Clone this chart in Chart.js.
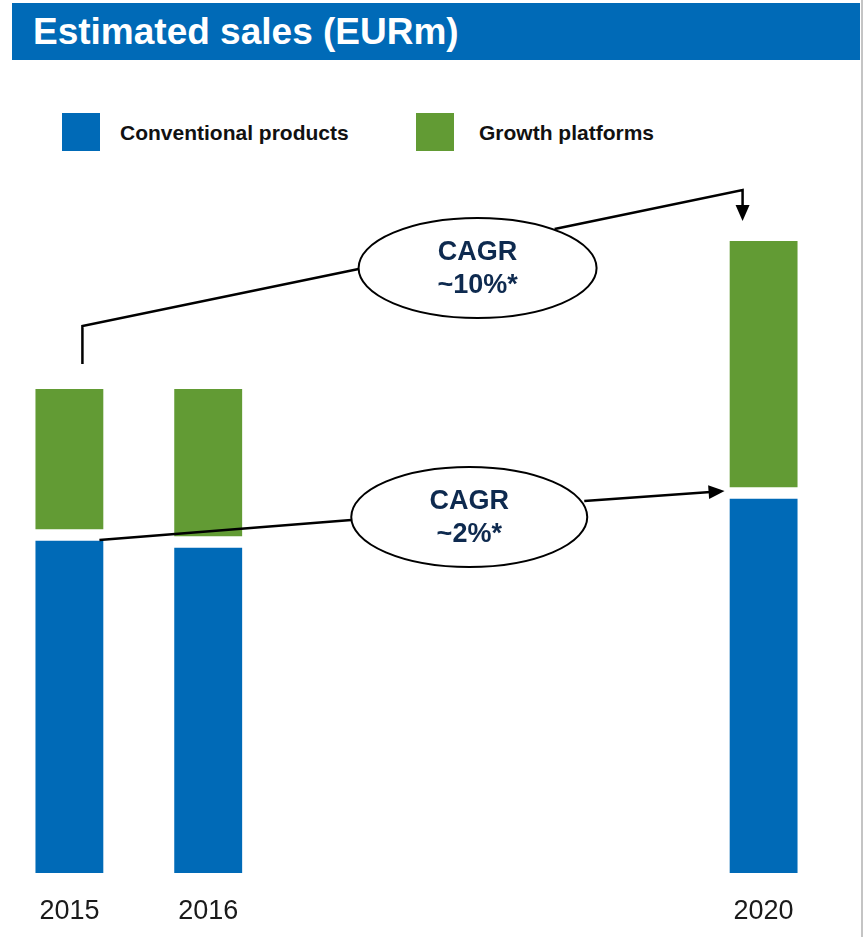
<!DOCTYPE html>
<html>
<head>
<meta charset="utf-8">
<title>Estimated sales (EURm)</title>
<script src="https://cdn.jsdelivr.net/npm/chart.js@4.4.1/dist/chart.umd.min.js"></script>
<style>
    body { margin: 0; background: #fff; font-family: "Liberation Sans", Arial, sans-serif; }
    #page { position: relative; width: 865px; height: 937px; overflow: hidden; }
    #title-bar { position: absolute; left: 12px; top: 3px; width: 848px; height: 57px; background: #006ab7; }
    #title-bar h1 { position: absolute; left: 21px; top: 10px; margin: 0; color: #fff;
                    font-size: 37px; line-height: 37px; font-weight: bold; }
    #right-rule { position: absolute; left: 861px; top: 0; width: 2px; height: 937px; background: #c4c4c4; }
    .legend-item { position: absolute; top: 113px; height: 38px; display: flex; align-items: center; }
    .legend-box { width: 38px; height: 38px; margin-right: 20px; }
    .legend-text { font-size: 21px; line-height: 21px; font-weight: bold; color: #111; }
    #myChart { position: absolute; left: 0; top: 0; }
</style>
</head>
<body>
<div id="page">
    <div id="title-bar"><h1>Estimated sales (EURm)</h1></div>
    <div id="right-rule"></div>
    <div class="legend-item" style="left:62px"><div class="legend-box" style="background:#006ab7"></div><span class="legend-text">Conventional products</span></div>
    <div class="legend-item" style="left:416px"><div class="legend-box" style="background:#629b34;margin-right:25px"></div><span class="legend-text">Growth platforms</span></div>
    <canvas id="myChart" width="865" height="937"></canvas>
</div>
<script>
/******************************************************/
// Chart data (no axis in the source, values read as relative bar heights)
var years = ['2015', '2016', '2017', '2018', '2019', '2020'];
var conventionalSales = [338, 331, null, null, null, 380];
var growthSales = [146, 153, null, null, null, 252];
var growthCagr = ['CAGR', '~10%*'];
var conventionalCagr = ['CAGR', '~2%*'];

var blue = '#006ab7';
var green = '#629b34';
var navy = '#0e2a4f';
var barWidth = 68;

/******************************************************/
// Draw the CAGR connectors and ellipses on top of the bars
var cagrPlugin = {
    id: 'cagrArrows',
    afterDatasetsDraw: function (chart) {
        var ctx = chart.ctx;
        var xs = chart.scales.x;
        var ys = chart.scales.y;
        var first = 0, last = years.length - 1;
        var totalFirst = conventionalSales[first] + growthSales[first];
        var totalLast = conventionalSales[last] + growthSales[last];
        var x0 = xs.getPixelForValue(first);
        var x1 = xs.getPixelForValue(last);
        var half = barWidth / 2;

        var e1 = { x: xs.getPixelForValue(2.94), y: ys.getPixelForValue(605), rx: 119, ry: 50 };
        var e2 = { x: xs.getPixelForValue(2.88), y: ys.getPixelForValue(356), rx: 118, ry: 50 };

        ctx.save();
        ctx.strokeStyle = '#000';
        ctx.fillStyle = '#000';
        ctx.lineWidth = 2.5;
        ctx.lineJoin = 'miter';

        // growth platforms line: 2015 total -> 2020 total
        var topTip = ys.getPixelForValue(totalLast) - 20;
        polyline(ctx, [[x0 + 13, ys.getPixelForValue(totalFirst) - 25],
                       [x0 + 13, ys.getPixelForValue(totalFirst) - 63],
                       [e1.x - e1.rx, e1.y + 1]]);
        polyline(ctx, [[e1.x + 77, e1.y - 39],
                       [x1 - 21, ys.getPixelForValue(totalLast) - 51],
                       [x1 - 21, topTip - 14]]);
        arrowHead(ctx, x1 - 21, topTip, 0, 1);

        // conventional products line: 2015 -> 2020
        var tipX = x1 - half - 5;
        var tipY = ys.getPixelForValue(conventionalSales[last]) - 2;
        polyline(ctx, [[x0 + 30, ys.getPixelForValue(conventionalSales[first]) + 5],
                       [e2.x - e2.rx, e2.y + 3]]);
        var sx = e2.x + 115, sy = e2.y - 16;
        var len = Math.sqrt((tipX - sx) * (tipX - sx) + (tipY - sy) * (tipY - sy));
        var dx = (tipX - sx) / len, dy = (tipY - sy) / len;
        polyline(ctx, [[sx, sy], [tipX - dx * 14, tipY - dy * 14]]);
        arrowHead(ctx, tipX, tipY, dx, dy);

        // ellipses with labels
        drawBubble(ctx, e1, growthCagr);
        drawBubble(ctx, e2, conventionalCagr);
        ctx.restore();
    }
};

function polyline(ctx, pts) {
    ctx.beginPath();
    ctx.moveTo(pts[0][0], pts[0][1]);
    for (var i = 1; i < pts.length; i++) {
        ctx.lineTo(pts[i][0], pts[i][1]);
    }
    ctx.stroke();
}

function arrowHead(ctx, x, y, dx, dy) {
    var l = 16, w = 7;
    ctx.beginPath();
    ctx.moveTo(x, y);
    ctx.lineTo(x - dx * l - dy * w, y - dy * l + dx * w);
    ctx.lineTo(x - dx * l + dy * w, y - dy * l - dx * w);
    ctx.closePath();
    ctx.fill();
}

function drawBubble(ctx, e, lines) {
    ctx.beginPath();
    ctx.ellipse(e.x, e.y, e.rx, e.ry, 0, 0, Math.PI * 2);
    ctx.fillStyle = '#fff';
    ctx.fill();
    ctx.lineWidth = 2;
    ctx.strokeStyle = '#000';
    ctx.stroke();
    ctx.fillStyle = navy;
    ctx.font = 'bold 27px "Liberation Sans", Arial, sans-serif';
    ctx.textAlign = 'center';
    ctx.textBaseline = 'middle';
    ctx.fillText(lines[0], e.x, e.y - 15);
    ctx.fillText(lines[1], e.x, e.y + 18);
    ctx.fillStyle = '#000';
    ctx.lineWidth = 2.5;
}

/******************************************************/
// Build the chart
var ctx = document.getElementById('myChart').getContext('2d');
var salesChart = new Chart(ctx, {
    type: 'bar',
    data: {
        labels: years,
        datasets: [
            {
                label: 'Conventional products',
                data: conventionalSales,
                backgroundColor: blue,
                borderColor: '#fff',
                borderWidth: { top: 6, right: 0, bottom: 0, left: 0 },
                borderSkipped: false,
                barThickness: barWidth
            }, {
                label: 'Growth platforms',
                data: growthSales,
                backgroundColor: green,
                borderColor: '#fff',
                borderWidth: { top: 0, right: 0, bottom: 6, left: 0 },
                borderSkipped: false,
                barThickness: barWidth
            }]
    },
    options: {
        responsive: false,
        animation: false,
        layout: { padding: { top: 173, right: 32, bottom: 0, left: 0 } },
        plugins: {
            legend: { display: false },
            tooltip: { enabled: false }
        },
        scales: {
            x: {
                stacked: true,
                grid: { display: false, drawTicks: false },
                border: { display: false },
                ticks: {
                    padding: 22,
                    color: '#1a1a1a',
                    font: { size: 27, family: '"Liberation Sans", Arial, sans-serif' },
                    autoSkip: false,
                    maxRotation: 0,
                    callback: function (value, index) {
                        return conventionalSales[index] === null ? '' : years[index];
                    }
                },
                afterFit: function (scale) { scale.height = 64; }
            },
            y: {
                stacked: true,
                display: false,
                min: 0,
                max: 700
            }
        }
    },
    plugins: [cagrPlugin]
});
</script>
</body>
</html>
